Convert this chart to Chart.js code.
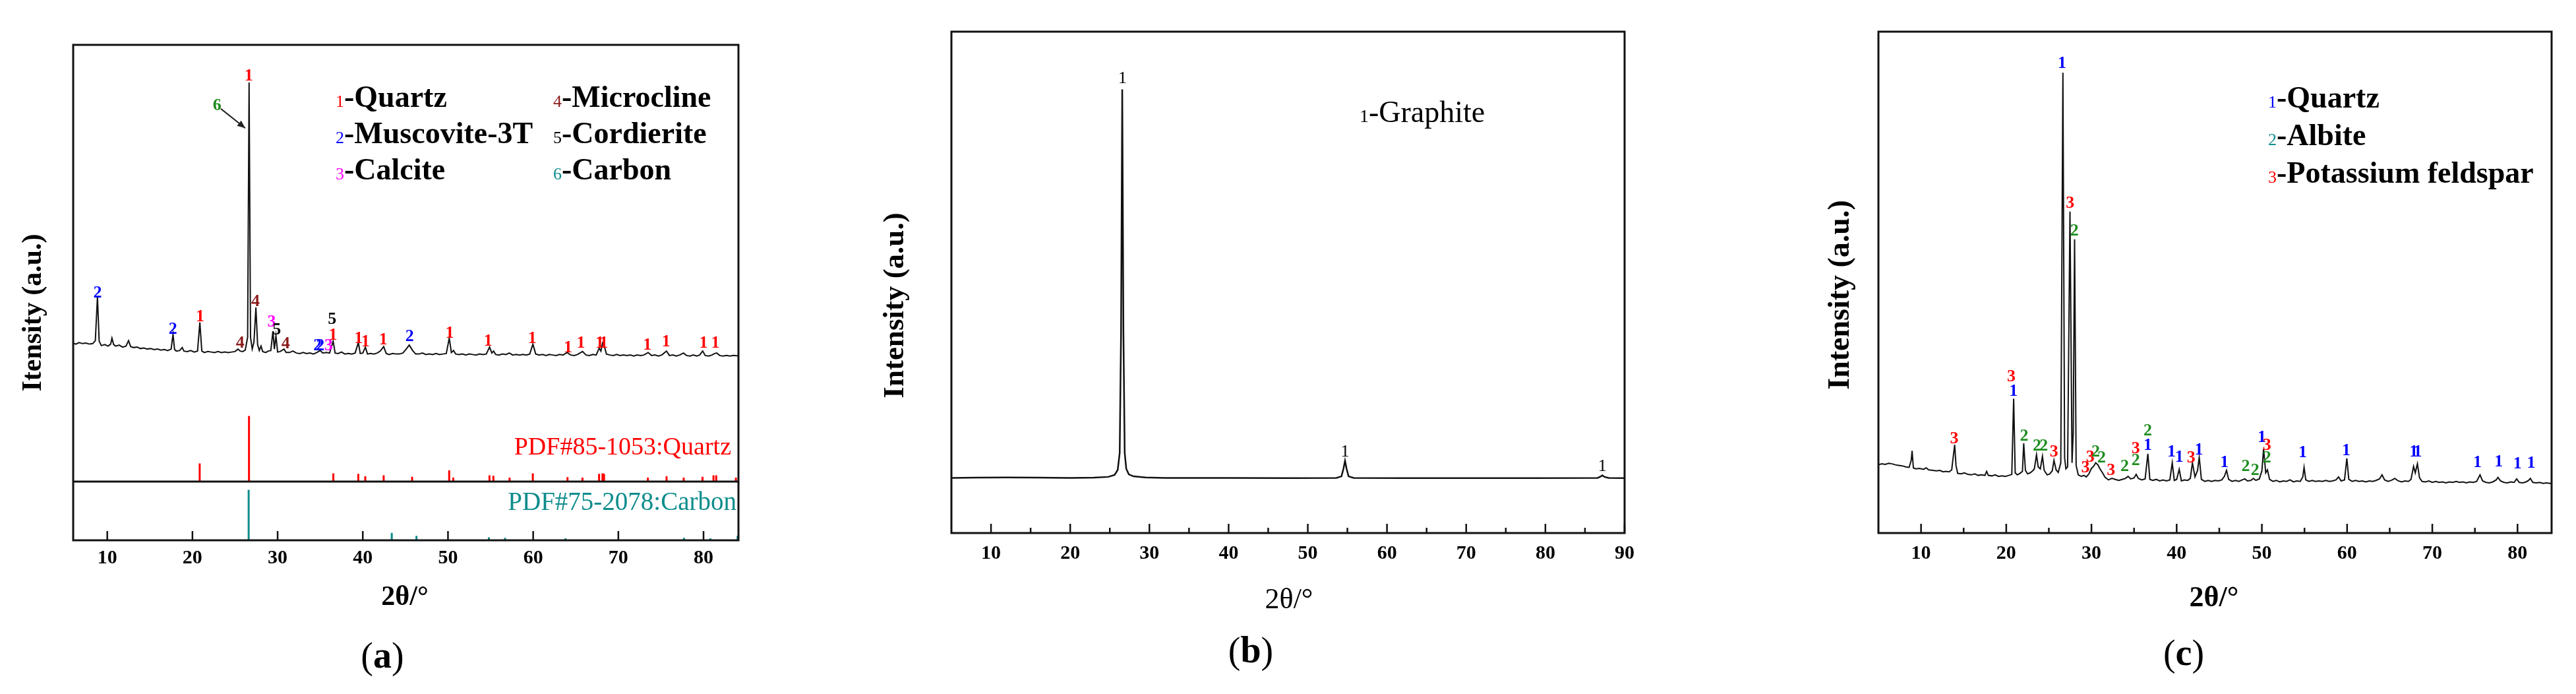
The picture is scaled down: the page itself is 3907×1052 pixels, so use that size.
<!DOCTYPE html>
<html>
<head>
<meta charset="utf-8">
<script src="https://cdn.jsdelivr.net/npm/chart.js@4.4.0/dist/chart.umd.min.js"></script>
<style>
  html, body { margin: 0; padding: 0; background: #fff; }
  body { width: 3907px; height: 1052px; position: relative; overflow: hidden; }
  canvas { position: absolute; top: 0; }
</style>
</head>
<body>
<canvas id="chartA" width="1300" height="1052" style="left:0px"></canvas>
<canvas id="chartB" width="1300" height="1052" style="left:1300px"></canvas>
<canvas id="chartC" width="1307" height="1052" style="left:2600px"></canvas>
<script>
// ===== DATA: panel (a) =====
const xTicksA = [10, 20, 30, 40, 50, 60, 70, 80];
const traceA = [
  [6.0,39.8],[6.3,39.6],[6.7,39.9],[7.1,39.7],[7.5,39.8],[7.9,39.6],[8.3,39.7],[8.6,40.3],[8.85,49.2],[9.05,40.2],
  [9.3,39.3],[9.7,39.5],[10.1,39.2],[10.4,39.6],[10.55,40.8],[10.75,39.5],[11.0,39.2],[11.4,39.4],[11.8,39.0],[12.2,39.2],
  [12.5,40.3],[12.75,39.1],[13.1,38.9],[13.5,39.0],[13.9,38.7],[14.3,38.8],[14.7,38.6],[15.1,38.7],[15.5,38.5],[15.9,38.6],
  [16.3,38.4],[16.7,38.5],[17.1,38.3],[17.5,38.6],[17.72,41.6],[17.9,38.5],[18.1,38.2],[18.5,38.3],[18.8,38.9],[19.0,38.2],
  [19.4,38.1],[19.8,38.3],[20.2,38.0],[20.6,38.2],[20.87,44.0],[21.1,38.2],[21.4,37.9],[21.8,38.1],[22.2,38.0],[22.6,37.9],
  [23.0,38.1],[23.4,37.9],[23.8,38.0],[24.2,37.9],[24.6,38.0],[25.0,38.1],[25.35,38.6],[25.6,38.2],[25.9,38.1],[26.2,38.4],
  [26.48,41.0],[26.65,92.4],[26.82,41.0],[27.02,38.6],[27.22,40.0],[27.45,47.0],[27.65,39.5],[27.85,38.3],[28.05,39.2],[28.25,38.1],
  [28.6,37.9],[28.9,38.2],[29.2,38.3],[29.45,42.2],[29.62,38.6],[29.8,41.3],[30.0,38.0],[30.3,38.1],[30.75,38.6],[31.0,37.9],
  [31.4,37.9],[31.8,38.2],[32.2,37.8],[32.6,37.7],[33.0,37.9],[33.4,37.7],[33.8,37.8],[34.2,37.6],[34.6,37.9],[35.0,38.3],
  [35.3,37.8],[35.7,37.9],[36.1,37.8],[36.52,40.2],[36.75,37.8],[37.1,37.7],[37.5,38.0],[37.9,37.6],[38.3,37.7],[38.7,37.6],
  [39.1,37.8],[39.48,39.9],[39.7,37.7],[40.0,37.8],[40.3,39.0],[40.55,37.6],[40.9,37.7],[41.3,37.6],[41.7,37.8],[42.05,38.2],
  [42.45,39.1],[42.75,37.7],[43.1,37.5],[43.5,37.7],[43.9,37.6],[44.3,37.6],[44.7,37.8],[45.1,38.6],[45.45,39.4],[45.85,38.3],
  [46.2,37.6],[46.6,37.6],[47.0,37.8],[47.4,37.5],[47.8,37.6],[48.2,37.5],[48.6,37.7],[49.0,37.5],[49.4,37.6],[49.8,37.7],
  [50.15,40.8],[50.4,37.9],[50.65,38.3],[50.9,37.6],[51.3,37.5],[51.7,37.6],[52.1,37.4],[52.5,37.6],[52.9,37.5],[53.3,37.4],
  [53.7,37.6],[54.1,37.5],[54.5,37.6],[54.88,39.0],[55.15,37.8],[55.35,38.2],[55.6,37.5],[56.0,37.4],[56.4,37.6],[56.8,37.5],
  [57.2,37.8],[57.6,37.4],[58.0,37.5],[58.4,37.4],[58.8,37.5],[59.2,37.4],[59.6,37.6],[59.97,39.6],[60.3,37.6],[60.7,37.4],
  [61.1,37.5],[61.5,37.3],[61.9,37.5],[62.3,37.4],[62.7,37.3],[63.1,37.5],[63.5,37.4],[64.0,37.9],[64.4,37.4],[64.8,37.3],
  [65.2,37.5],[65.8,38.1],[66.2,37.4],[66.6,37.3],[67.0,37.5],[67.4,37.4],[67.75,38.8],[67.95,38.2],[68.15,39.8],[68.35,39.2],
  [68.6,37.6],[69.0,37.4],[69.4,37.3],[69.8,37.5],[70.2,37.3],[70.6,37.4],[71.0,37.3],[71.4,37.4],[71.8,37.2],[72.2,37.4],
  [72.6,37.3],[73.0,37.4],[73.5,37.9],[73.9,37.3],[74.3,37.4],[74.7,37.2],[75.1,37.4],[75.65,38.2],[76.0,37.3],[76.4,37.4],
  [76.8,37.2],[77.2,37.4],[77.65,37.8],[78.0,37.3],[78.4,37.2],[78.8,37.4],[79.2,37.2],[79.55,37.4],[79.9,38.2],[80.2,37.3],
  [80.6,37.2],[81.0,37.4],[81.3,37.7],[81.55,37.8],[81.9,37.3],[82.3,37.2],[82.7,37.3],[83.1,37.2],[83.5,37.3],[84.1,37.2]
];
const dividerA = 11.85;
const quartzRefX   = [20.85, 26.64, 36.54, 39.47, 40.29, 42.45, 45.79, 50.14, 50.62, 54.87, 55.33, 57.23, 59.96, 64.03, 65.79, 67.74, 68.14, 68.32, 73.47, 75.66, 77.67, 79.88, 81.17, 81.49, 83.8];
const quartzRefTop = [15.5, 25.1, 13.5, 13.4, 12.9, 13.1, 12.8, 14.1, 12.65, 13.1, 13.0, 12.65, 13.5, 12.75, 12.65, 13.4, 13.5, 13.4, 12.65, 12.9, 12.65, 12.8, 13.1, 13.1, 12.65];
const carbonRefX   = [26.6, 43.4, 46.3, 54.8, 56.7, 63.8, 77.7, 80.8, 84.0];
const carbonRefTop = [10.2, 1.5, 0.9, 0.6, 0.5, 0.4, 0.5, 0.4, 0.9];
const peakLabelsA = [
  ['2', 8.86, 49.9], ['2', 17.7, 42.6], ['1', 20.9, 45.1], ['4', 25.6, 39.8], ['4', 27.4, 48.1],
  ['3', 29.3, 44.1], ['5', 29.9, 42.5], ['4', 30.95, 39.6], ['2', 34.7, 39.3], ['2', 35.0, 39.3],
  ['3', 36.0, 39.3], ['5', 36.4, 44.6], ['1', 36.5, 41.4], ['1', 39.5, 40.7], ['1', 40.3, 40.1],
  ['1', 42.4, 40.5], ['2', 45.5, 41.1], ['1', 50.2, 41.8], ['1', 54.7, 40.2], ['1', 59.9, 40.7],
  ['1', 64.1, 38.9], ['1', 65.6, 39.8], ['1', 67.8, 39.8], ['1', 68.3, 39.8], ['1', 73.4, 39.4],
  ['1', 75.6, 40.1], ['1', 80.0, 39.8], ['1', 81.4, 39.8], ['1', 26.6, 93.75], ['6', 22.9, 87.7]
];
const arrowA = [23.34, 87.1, 26.2, 83.2];
const legendA = [['1', 'Quartz'], ['2', 'Muscovite-3T'], ['3', 'Calcite'], ['4', 'Microcline'], ['5', 'Cordierite'], ['6', 'Carbon']];

// ===== DATA: panel (b) =====
const xTicksB = [10, 20, 30, 40, 50, 60, 70, 80, 90];
const xMinorB = [15, 25, 35, 45, 55, 65, 75, 85];
const traceB = [
  [5,11.0],[8,11.05],[12,11.1],[16,11.05],[20,11.0],[23,11.05],[24.8,11.2],[25.6,11.6],[26.0,12.6],[26.25,16],
  [26.42,40],[26.57,88.5],[26.72,40],[26.88,16],[27.08,12.8],[27.4,11.7],[28,11.3],[29.5,11.1],[32,11.0],[40,11.0],
  [48,10.95],[53.6,11.0],[54.25,11.3],[54.5,12.8],[54.7,14.4],[54.9,12.8],[55.15,11.3],[55.8,11.0],[62,10.95],[70,10.95],
  [78,10.95],[86.6,11.0],[87.0,11.3],[87.2,11.5],[87.45,11.2],[88,11.0],[90,10.95]
];
const peakLabelsB = [['1', 26.6, 90.6], ['1', 54.7, 16.2], ['1', 87.2, 13.3]];
const legendB = [['1', 'Graphite']];

// ===== DATA: panel (c) =====
const xTicksC = [10, 20, 30, 40, 50, 60, 70, 80];
const xMinorC = [15, 25, 35, 45, 55, 65, 75];
const traceC = [
  [5.0,13.6],[5.4,13.8],[5.8,13.7],[6.2,13.9],[6.6,13.8],[7.0,13.6],[7.4,13.5],[7.8,13.4],[8.2,13.2],[8.6,13.1],
  [8.85,14.5],[8.95,16.4],[9.1,13.0],[9.4,12.8],[9.8,12.9],[10.3,12.7],[10.6,13.0],[10.9,12.6],[11.4,12.5],[11.8,12.4],
  [12.2,12.5],[12.6,12.2],[12.9,12.3],[13.3,12.2],[13.6,12.6],[13.8,15.5],[13.95,17.6],[14.1,13.5],[14.3,11.9],[14.7,11.8],
  [15.1,12.0],[15.5,11.7],[15.9,11.6],[16.3,11.8],[16.7,11.5],[17.1,11.6],[17.5,11.5],[17.7,12.3],[17.9,11.5],[18.3,11.4],
  [18.7,11.6],[19.1,11.3],[19.5,11.4],[19.9,11.3],[20.3,11.5],[20.65,11.7],[20.87,26.8],[21.05,12.0],[21.3,11.6],[21.6,11.9],
  [21.9,12.3],[22.05,17.9],[22.25,12.5],[22.5,11.8],[22.8,12.0],[23.1,12.4],[23.3,12.8],[23.55,15.6],[23.75,13.2],[24.0,12.8],
  [24.25,15.3],[24.45,12.5],[24.8,11.6],[25.1,11.8],[25.4,12.4],[25.6,14.5],[25.85,12.6],[26.1,12.1],[26.4,14.0],[26.65,91.8],
  [26.85,15.0],[27.0,12.8],[27.2,13.2],[27.48,64.1],[27.72,14.0],[27.86,20.0],[28.02,58.6],[28.2,13.5],[28.45,11.6],[28.8,11.3],
  [29.1,11.5],[29.4,11.2],[29.7,11.8],[30.0,12.9],[30.25,13.3],[30.5,14.0],[30.75,13.6],[31.0,12.8],[31.3,12.0],[31.6,11.1],
  [32.0,10.6],[32.4,10.9],[32.8,10.7],[33.2,10.5],[33.6,10.7],[34.0,10.9],[34.3,11.3],[34.6,10.8],[35.0,11.0],[35.25,11.7],
  [35.5,10.9],[35.9,10.6],[36.3,10.8],[36.62,15.8],[36.85,10.7],[37.2,10.5],[37.6,10.7],[38.0,10.4],[38.4,10.6],[38.8,10.4],
  [39.2,10.6],[39.48,14.0],[39.72,10.5],[40.0,10.7],[40.3,12.7],[40.55,10.4],[40.9,10.6],[41.3,10.5],[41.6,10.9],[41.85,14.0],
  [42.15,11.2],[42.45,12.5],[42.65,15.1],[42.9,10.7],[43.3,10.3],[43.7,10.5],[44.1,10.3],[44.5,10.5],[44.9,10.4],[45.3,10.6],
  [45.6,11.3],[45.85,12.5],[46.1,10.7],[46.5,10.3],[46.9,10.5],[47.3,10.3],[47.7,10.6],[48.0,10.8],[48.3,10.4],[48.7,10.5],
  [49.0,10.9],[49.3,10.5],[49.7,10.8],[50.0,12.4],[50.2,16.8],[50.45,12.0],[50.65,12.6],[50.9,10.7],[51.3,10.3],[51.7,10.5],
  [52.1,10.2],[52.5,10.4],[52.9,10.3],[53.3,10.6],[53.7,10.2],[54.1,10.4],[54.5,10.3],[54.8,11.2],[54.95,13.1],[55.15,10.6],
  [55.5,10.3],[55.9,10.5],[56.3,10.3],[56.7,10.4],[57.1,10.3],[57.5,10.5],[57.9,10.3],[58.3,10.4],[58.7,10.6],[59.0,11.2],
  [59.3,10.4],[59.7,10.6],[59.97,14.9],[60.2,10.7],[60.6,10.3],[61.0,10.5],[61.4,10.3],[61.8,10.4],[62.2,10.2],[62.6,10.4],
  [63.0,10.3],[63.4,10.5],[63.8,10.8],[64.1,11.6],[64.4,10.6],[64.8,10.3],[65.2,10.5],[65.6,10.9],[66.0,10.4],[66.4,10.2],
  [66.8,10.4],[67.2,10.3],[67.5,10.7],[67.8,13.3],[68.0,12.0],[68.25,13.8],[68.5,11.0],[68.8,10.3],[69.2,10.2],[69.6,10.4],
  [70.0,10.1],[70.4,10.3],[70.8,10.1],[71.2,10.2],[71.6,10.0],[72.0,10.2],[72.4,10.1],[72.8,10.3],[73.2,10.1],[73.6,10.2],
  [74.0,10.0],[74.4,10.2],[74.8,10.1],[75.2,10.3],[75.6,11.6],[75.9,10.4],[76.3,10.1],[76.7,10.0],[77.1,10.2],[77.5,10.6],
  [77.7,11.1],[78.0,10.4],[78.4,10.1],[78.8,10.0],[79.2,10.2],[79.6,10.1],[79.9,10.8],[80.2,10.1],[80.6,10.0],[81.0,10.2],
  [81.3,10.5],[81.5,10.9],[81.8,10.1],[82.2,10.0],[82.6,10.1],[83.0,9.9],[83.4,10.0],[83.8,9.9],[84.0,9.9]
];
const peakLabelsC = [
  ['3', 13.9, 18.8], ['3', 20.6, 31.1], ['1', 20.85, 28.3], ['2', 22.1, 19.3], ['2', 23.6, 17.3],
  ['2', 24.4, 17.3], ['3', 25.6, 16.2], ['1', 26.55, 93.7], ['3', 27.5, 65.7], ['2', 28.0, 60.2],
  ['3', 29.3, 13.0], ['3', 29.85, 15.1], ['2', 30.5, 16.2], ['2', 31.2, 15.0], ['3', 32.3, 12.5],
  ['2', 33.9, 13.2], ['3', 35.2, 16.8], ['2', 35.2, 14.5], ['2', 36.6, 20.4], ['1', 36.6, 17.4],
  ['1', 39.4, 16.2], ['1', 40.3, 15.1], ['3', 41.7, 14.9], ['1', 42.6, 16.6], ['1', 45.6, 14.0],
  ['2', 48.1, 13.2], ['2', 49.2, 12.5], ['1', 50.0, 19.1], ['3', 50.6, 17.5], ['2', 50.6, 14.9],
  ['1', 54.8, 16.0], ['1', 59.9, 16.4], ['1', 67.8, 16.2], ['1', 68.3, 16.2], ['1', 75.3, 14.0],
  ['1', 77.8, 14.2], ['1', 80.0, 13.8], ['1', 81.6, 13.9]
];
const legendC = [['1', 'Quartz'], ['2', 'Albite'], ['3', 'Potassium feldspar']];

// ===== STYLE =====
const SERIF = '"Liberation Serif", "Times New Roman", serif';
const RED = '#ff0000', BLUE = '#0000ff', MAGENTA = '#ff00ff', MAROON = '#8b1a1a', GREEN = '#1e8c1e', TEAL = '#0e8c8c';

function toPts(arr) { return arr.map(([x, y]) => ({ x, y })); }

// vertical reference sticks, broken apart by null points
function sticks(xv, tops, base) {
  const pts = [];
  xv.forEach((x, i) => { pts.push({ x, y: base }, { x, y: tops[i] }, { x, y: null }); });
  return pts;
}

function seg(ctx, x0, y0, x1, y1) {
  ctx.beginPath(); ctx.moveTo(x0, y0); ctx.lineTo(x1, y1); ctx.stroke();
}

function text(ctx, s, x, y, font, color, align, base) {
  ctx.font = font; ctx.fillStyle = color;
  ctx.textAlign = align || 'center'; ctx.textBaseline = base || 'middle';
  ctx.fillText(s, x, y);
}

function makePanel(id, p) {
  const decor = {
    id: 'decor',
    afterDraw(chart) {
      const ctx = chart.ctx, a = chart.chartArea, xs = chart.scales.x, ys = chart.scales.y;
      const off = p.offset;
      ctx.save();
      ctx.strokeStyle = '#111'; ctx.lineCap = 'butt';

      // inward ticks
      ctx.lineWidth = 2.5;
      p.major.forEach(v => { const px = xs.getPixelForValue(v); seg(ctx, px, a.bottom, px, a.bottom - 14); });
      (p.minor || []).forEach(v => { const px = xs.getPixelForValue(v); seg(ctx, px, a.bottom, px, a.bottom - 8); });

      if (p.divider !== undefined) {
        ctx.lineWidth = 3;
        const py = ys.getPixelForValue(p.divider);
        seg(ctx, a.left, py, a.right, py);
      }
      ctx.lineWidth = 3;
      ctx.strokeRect(a.left, a.top, a.right - a.left, a.bottom - a.top);

      // peak labels
      p.labels.forEach(([t, x, y]) => {
        text(ctx, t, xs.getPixelForValue(x), ys.getPixelForValue(y), p.labelFont, p.colors[t]);
      });

      if (p.arrow) {
        const [x0, y0, x1, y1] = p.arrow;
        const X0 = xs.getPixelForValue(x0), Y0 = ys.getPixelForValue(y0);
        const X1 = xs.getPixelForValue(x1), Y1 = ys.getPixelForValue(y1);
        ctx.lineWidth = 2; ctx.strokeStyle = '#222';
        seg(ctx, X0, Y0, X1, Y1);
        const ang = Math.atan2(Y1 - Y0, X1 - X0);
        ctx.fillStyle = '#222';
        ctx.beginPath();
        ctx.moveTo(X1, Y1);
        ctx.lineTo(X1 - 13 * Math.cos(ang - 0.4), Y1 - 13 * Math.sin(ang - 0.4));
        ctx.lineTo(X1 - 13 * Math.cos(ang + 0.4), Y1 - 13 * Math.sin(ang + 0.4));
        ctx.closePath(); ctx.fill();
      }

      // legend rows: small coloured number + black name
      p.legend.forEach(([num, name], i) => {
        const pos = p.legendPos[i];
        const x = pos[0] - off, y = pos[1];
        text(ctx, num, x, y, p.legendNumFont, p.legendColors[num], 'left', 'alphabetic');
        const w = ctx.measureText(num).width;
        text(ctx, '-' + name, x + w, y, p.legendFont, '#000', 'left', 'alphabetic');
      });

      (p.notes || []).forEach(n => text(ctx, n.s, n.x - off, n.y, n.font, n.color, n.align));

      // axis titles
      text(ctx, '2\u03b8/\u00b0', p.xTitle[0] - off, p.xTitle[1], p.xTitleFont, '#000');
      ctx.save();
      ctx.translate(p.yTitle[0] - off, p.yTitle[1]);
      ctx.rotate(-Math.PI / 2);
      text(ctx, p.yTitleText, 0, 0, p.yTitleFont, '#000');
      ctx.restore();

      // panel letter: regular parentheses, bold letter
      const parts = [['(', '56px ' + SERIF], [p.letter, 'bold 56px ' + SERIF], [')', '56px ' + SERIF]];
      let tw = 0;
      parts.forEach(([s, f]) => { ctx.font = f; tw += ctx.measureText(s).width; });
      let cx = p.letterPos[0] - off - tw / 2;
      parts.forEach(([s, f]) => {
        text(ctx, s, cx, p.letterPos[1], f, '#000', 'left');
        ctx.font = f; cx += ctx.measureText(s).width;
      });
      ctx.restore();
    }
  };

  new Chart(document.getElementById(id), {
    type: 'scatter',
    data: { datasets: p.datasets },
    options: {
      responsive: false,
      animation: false,
      devicePixelRatio: 1,
      layout: { padding: p.pad },
      plugins: { legend: { display: false }, tooltip: { enabled: false } },
      elements: { point: { radius: 0 }, line: { tension: 0 } },
      scales: {
        x: {
          type: 'linear', min: p.xMin, max: p.xMax, offset: false,
          grid: { display: false, drawTicks: false },
          border: { display: false },
          ticks: {
            font: { family: SERIF, size: 30, weight: 'bold' }, color: '#000',
            padding: p.tickPad, maxRotation: 0, autoSkip: false
          },
          afterBuildTicks: s => { s.ticks = p.major.map(v => ({ value: v })); },
          afterFit: s => { s.height = p.xAxisH; }
        },
        y: { display: false, min: 0, max: 100 }
      }
    },
    plugins: [decor]
  });
}

// ===== PANEL (a) =====
makePanel('chartA', {
  offset: 0, xMin: 6.0, xMax: 84.1,
  pad: { left: 111, right: 180, top: 68, bottom: 0 }, xAxisH: 233, tickPad: 9,
  major: xTicksA, divider: dividerA,
  datasets: [
    { data: sticks(carbonRefX, carbonRefTop, 0), showLine: true, spanGaps: false, borderColor: TEAL, borderWidth: 3 },
    { data: sticks(quartzRefX, quartzRefTop, dividerA), showLine: true, spanGaps: false, borderColor: RED, borderWidth: 3 },
    { data: toPts(traceA), showLine: true, borderColor: '#111', borderWidth: 2 }
  ],
  labels: peakLabelsA, labelFont: 'bold 26px ' + SERIF,
  colors: { '1': RED, '2': BLUE, '3': MAGENTA, '4': MAROON, '5': '#000', '6': GREEN },
  arrow: arrowA,
  legend: legendA,
  legendPos: [[509, 162], [509, 217], [509, 272], [839, 162], [839, 217], [839, 272]],
  legendNumFont: '26px ' + SERIF, legendFont: 'bold 46px ' + SERIF,
  legendColors: { '1': RED, '2': BLUE, '3': MAGENTA, '4': MAROON, '5': '#000', '6': TEAL },
  notes: [
    { s: 'PDF#85-1053:Quartz', x: 1109, y: 679, font: '38px ' + SERIF, color: RED, align: 'right' },
    { s: 'PDF#75-2078:Carbon', x: 1117, y: 763, font: '39px ' + SERIF, color: TEAL, align: 'right' }
  ],
  xTitle: [614, 906], xTitleFont: 'bold 42px ' + SERIF,
  yTitle: [51, 474], yTitleText: 'Itensity (a.u.)', yTitleFont: 'bold 42px ' + SERIF,
  letter: 'a', letterPos: [580, 998]
});

// ===== PANEL (b) =====
makePanel('chartB', {
  offset: 1300, xMin: 5, xMax: 90,
  pad: { left: 143, right: 136, top: 48, bottom: 0 }, xAxisH: 244, tickPad: 13,
  major: xTicksB, minor: xMinorB,
  datasets: [
    { data: toPts(traceB), showLine: true, borderColor: '#111', borderWidth: 2.5 }
  ],
  labels: peakLabelsB, labelFont: '26px ' + SERIF,
  colors: { '1': '#000' },
  legend: legendB,
  legendPos: [[2062, 185]],
  legendNumFont: '28px ' + SERIF, legendFont: '46px ' + SERIF,
  legendColors: { '1': '#000' },
  xTitle: [1955, 910], xTitleFont: '44px ' + SERIF,
  yTitle: [1358, 463], yTitleText: 'Intensity (a.u.)', yTitleFont: 'bold 45px ' + SERIF,
  letter: 'b', letterPos: [1897, 990]
});

// ===== PANEL (c) =====
makePanel('chartC', {
  offset: 2600, xMin: 5, xMax: 84,
  pad: { left: 249, right: 37, top: 48, bottom: 0 }, xAxisH: 244, tickPad: 13,
  major: xTicksC, minor: xMinorC,
  datasets: [
    { data: toPts(traceC), showLine: true, borderColor: '#111', borderWidth: 2 }
  ],
  labels: peakLabelsC, labelFont: 'bold 26px ' + SERIF,
  colors: { '1': BLUE, '2': GREEN, '3': RED },
  legend: legendC,
  legendPos: [[3440, 163], [3440, 220], [3440, 277]],
  legendNumFont: '26px ' + SERIF, legendFont: 'bold 46px ' + SERIF,
  legendColors: { '1': BLUE, '2': TEAL, '3': RED },
  xTitle: [3358, 908], xTitleFont: 'bold 44px ' + SERIF,
  yTitle: [2792, 447], yTitleText: 'Intensity (a.u.)', yTitleFont: 'bold 46px ' + SERIF,
  letter: 'c', letterPos: [3312, 994]
});
</script>
</body>
</html>
